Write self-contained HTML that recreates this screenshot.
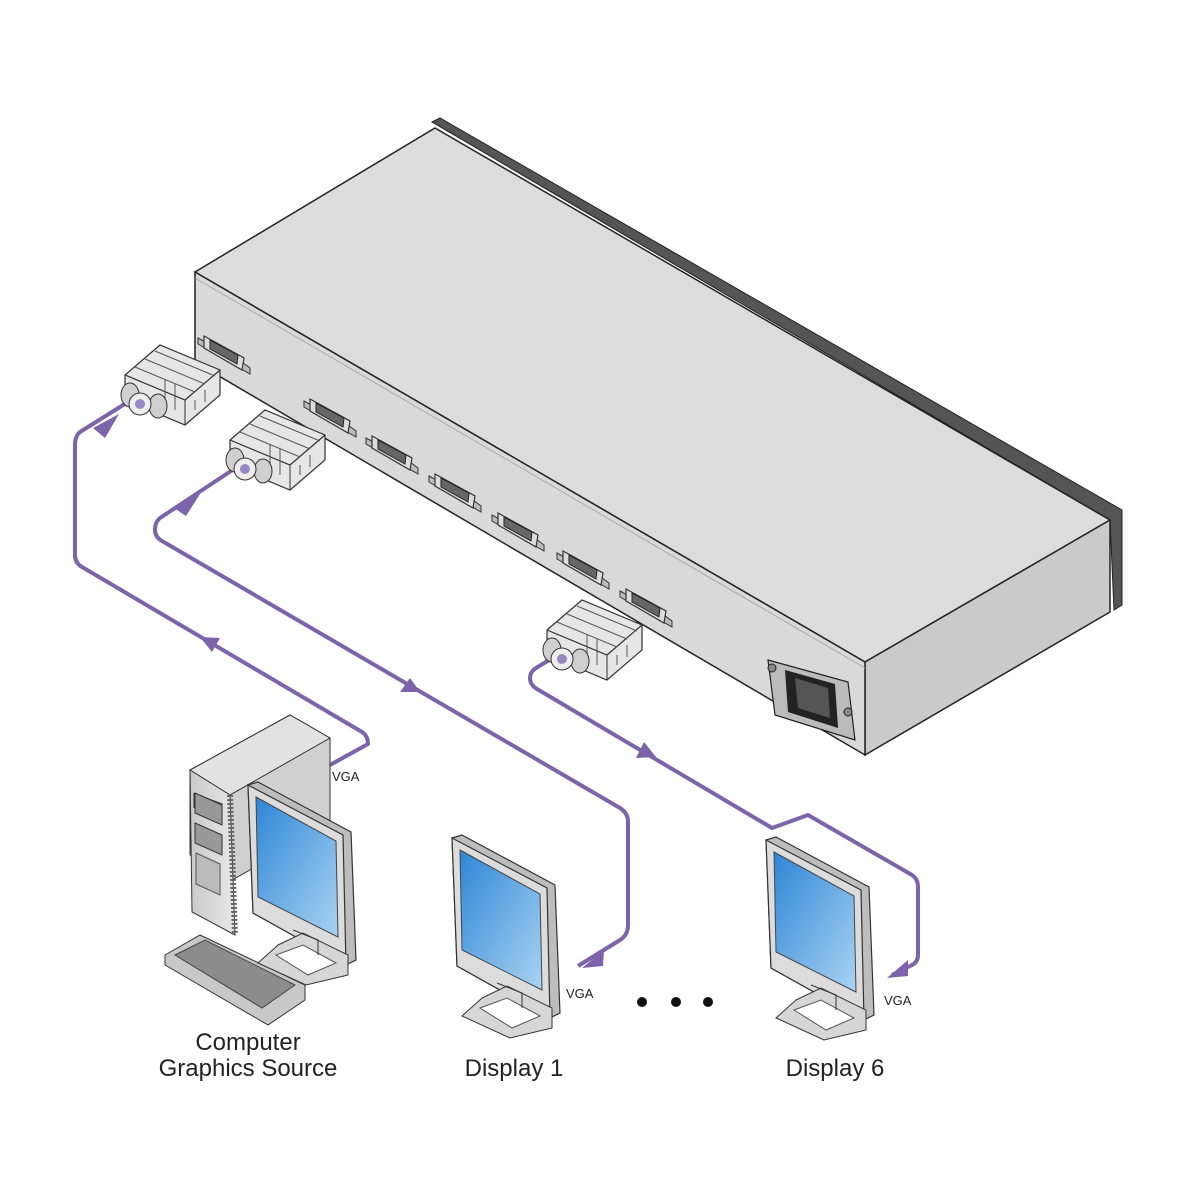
<!DOCTYPE html>
<html><head><meta charset="utf-8"><style>
html,body{margin:0;padding:0;background:#fff}
svg{display:block}
text{font-family:"Liberation Sans",Arial,sans-serif;fill:#222}
</style></head><body>
<svg width="1200" height="1200" viewBox="0 0 1200 1200" xmlns="http://www.w3.org/2000/svg">
<defs>
<linearGradient id="scr" x1="0" y1="0" x2="1" y2="1"><stop offset="0" stop-color="#2f86d6"/><stop offset="1" stop-color="#a9d3f2"/></linearGradient>
<linearGradient id="tw" x1="0" y1="0" x2="1" y2="0"><stop offset="0" stop-color="#c9c9c9"/><stop offset="1" stop-color="#e8e8e8"/></linearGradient>
<g id="port">
 <path d="M-26,-14 L18,10 L26,16 L26,22 L-26,-8 Z" fill="#bbb" stroke="#333" stroke-width="1"/>
 <path d="M-20,-16 L20,6 L18,18 L-20,-4 Z" fill="#ddd" stroke="#333" stroke-width="1.2"/>
 <path d="M-14,-12 L14,3 L13,12 L-14,-3 Z" fill="#666" stroke="#222" stroke-width="1"/>
</g>
<g id="plug">
 <path d="M-45,-5 L-10,-35 L50,-10 L50,15 L15,45 L-45,20 Z" fill="#e6e6e6" stroke="#333" stroke-width="1.2"/>
 <path d="M-45,-5 L15,20 L50,-10" fill="none" stroke="#333" stroke-width="1.2"/>
 <path d="M15,20 L15,45" stroke="#333"/>
 <path d="M-35,-13 L25,12 M-25,-21 L35,4 M-15,-29 L45,-4" stroke="#555" stroke-width="1"/>
 <path d="M-5,0 L-5,25 M5,4 L5,30 M25,20 L25,30 M35,10 L35,22" stroke="#555"/>
 <ellipse cx="-40" cy="15" rx="9" ry="12" fill="#cfcfcf" stroke="#333"/>
 <ellipse cx="-12" cy="26" rx="9" ry="12" fill="#cfcfcf" stroke="#333"/>
 <ellipse cx="-30" cy="24" rx="11" ry="11" fill="#eee" stroke="#333"/>
 <circle cx="-30" cy="24" r="5" fill="#9a86c2"/>
</g>
<g id="mon">
 <path d="M0,0 L10,-3 L103,47 L108,175 L98,180 L5,128 Z" fill="#bdbdbd" stroke="#333" stroke-width="1.2"/>
 <path d="M0,0 L95,50 L98,180 L5,128 Z" fill="#dcdcdc" stroke="#333" stroke-width="1.2"/>
 <path d="M8,12 L88,56 L90,152 L10,112 Z" fill="url(#scr)" stroke="#444"/>
 <path d="M30,160 L55,148 L100,170 L100,190 L58,200 L10,178 Z" fill="#d6d6d6" stroke="#333"/>
 <path d="M28,170 L55,160 L88,178 L60,190 Z" fill="#fff" stroke="#555"/>
 <path d="M45,145 L70,155 L70,170" fill="none" stroke="#333"/>
</g>
</defs>

<!-- device -->
<polygon points="432,122 440,118 1122,510 1122,605 1114,610 1110,520" fill="#555" stroke="#222"/>
<polygon points="195,272 435,128 1110,520 865,662" fill="#dcdcdc" stroke="#222" stroke-width="1.5"/>
<polygon points="865,662 1110,520 1110,612 865,755" fill="#cacaca" stroke="#222" stroke-width="1.5"/>
<polygon points="195,272 865,662 865,755 195,362" fill="#d9d9d9" stroke="#222" stroke-width="1.5"/>
<line x1="195" y1="278" x2="865" y2="668" stroke="#aaa"/>
<use href="#port" x="224" y="352"/>
<use href="#port" x="330" y="415"/>
<use href="#port" x="392" y="452"/>
<use href="#port" x="455" y="490"/>
<use href="#port" x="518" y="529"/>
<use href="#port" x="583" y="567"/>
<use href="#port" x="646" y="605"/>
<!-- power inlet -->
<polygon points="768,660 848,682 855,740 775,715" fill="#bbb" stroke="#222" stroke-width="1.2"/>
<polygon points="785,670 835,684 838,728 788,712" fill="#222"/>
<polygon points="795,678 828,688 830,718 798,708" fill="#555"/>
<circle cx="772" cy="668" r="4" fill="#888" stroke="#222"/>
<circle cx="848" cy="712" r="4" fill="#888" stroke="#222"/>

<!-- cables -->
<g fill="none" stroke="#7c63aa" stroke-width="4" stroke-linejoin="round">
<path d="M128,402 L80,432 Q75,436 75,445 L75,555 Q75,563 82,567 L362,732 Q368,736 368,744 L330,765"/>
<path d="M240,465 L160,518 Q155,522 155,530 Q155,537 162,541 L620,808 Q628,813 628,822 L628,925 Q628,935 620,940 L578,966"/>
<path d="M556,656 L536,668 Q530,672 530,678 Q530,685 537,689 L772,828 L808,815 L912,875 Q918,879 918,887 L918,955 Q918,962 912,965 L892,975"/>
</g>
<g fill="#7c63aa">
<polygon points="93,428 119,414 105,438"/>
<polygon points="174,508 200,494 186,516"/>
<polygon points="582,968 604,950 603,966"/>
<polygon points="887,978 908,960 908,976"/>
<polygon points="200,637 220,638 212,652"/>
<polygon points="420,692 400,692 410,678"/>
<polygon points="656,757 636,758 644,742"/>
</g>
<use href="#plug" x="170" y="380"/>
<use href="#plug" x="275" y="445"/>
<use href="#plug" x="592" y="635"/>

<!-- computer tower -->
<polygon points="190,770 290,715 330,738 330,825 232,880 190,855" fill="#d0d0d0" stroke="#333"/>
<polygon points="190,770 290,715 330,738 230,795" fill="#e2e2e2" stroke="#333"/>
<polygon points="190,770 230,795 235,935 192,912" fill="url(#tw)" stroke="#333"/>
<rect x="194" y="795" width="28" height="14" fill="#888" stroke="#333" transform="skewY(20) translate(0,-72)"/>
<polygon points="195,793 222,805 222,825 195,813" fill="#999" stroke="#333"/>
<polygon points="195,823 222,835 222,855 195,843" fill="#999" stroke="#333"/>
<polygon points="196,853 220,864 220,895 196,884" fill="#bbb" stroke="#555"/>
<line x1="230" y1="795" x2="235" y2="935" stroke="#666" stroke-width="6" stroke-dasharray="2,2"/>
<!-- keyboard -->
<polygon points="165,955 200,935 305,985 305,1000 268,1025 165,965" fill="#c8c8c8" stroke="#333"/>
<polygon points="175,955 205,940 295,985 262,1008" fill="#8c8c8c" stroke="#444"/>
<use href="#mon" x="248" y="785"/>
<use href="#mon" x="452" y="838"/>
<use href="#mon" x="766" y="840"/>

<text x="332" y="781" font-size="13">VGA</text>
<text x="566" y="998" font-size="13">VGA</text>
<text x="884" y="1005" font-size="13">VGA</text>
<circle cx="642" cy="1002" r="5" fill="#111"/>
<circle cx="676" cy="1002" r="5" fill="#111"/>
<circle cx="708" cy="1002" r="5" fill="#111"/>
<text x="248" y="1050" font-size="24" text-anchor="middle">Computer</text>
<text x="248" y="1076" font-size="24" text-anchor="middle">Graphics Source</text>
<text x="514" y="1076" font-size="24" text-anchor="middle">Display 1</text>
<text x="835" y="1076" font-size="24" text-anchor="middle">Display 6</text>
</svg>
</body></html>
